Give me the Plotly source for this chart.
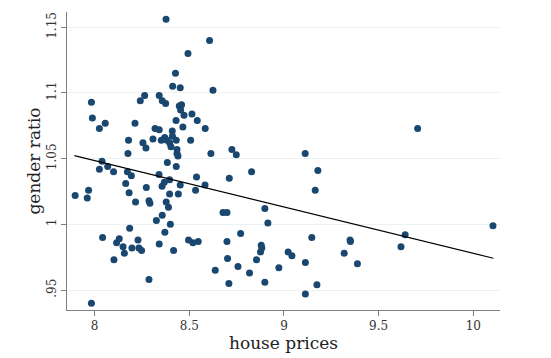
import plotly.graph_objects as go

house_prices = [
    8.377, 8.607, 8.493, 8.427, 8.412, 8.452, 8.625, 7.983, 8.264, 8.241,
    8.341, 8.357, 8.375, 8.459, 8.447, 8.454, 8.472, 7.988, 8.430, 8.514,
    8.542, 8.025, 8.056, 8.213, 8.319, 8.341, 8.410, 8.466, 8.584, 8.179,
    8.308, 8.255, 8.271, 8.352, 8.370, 8.382, 8.396, 8.431, 8.403, 8.507,
    8.435, 8.435, 8.440, 8.176, 8.384, 8.614, 8.725, 8.748, 8.039, 8.025,
    8.069, 8.100, 8.173, 8.194, 8.340, 8.431, 8.538, 8.711, 8.829, 8.396,
    8.164, 8.182, 8.273, 8.356, 8.368, 8.452, 8.442, 8.396, 8.378, 8.390,
    8.533, 8.583, 7.897, 7.968, 7.961, 8.216, 8.287, 8.292, 8.357, 8.326,
    8.400, 8.678, 8.699, 8.899, 8.915, 8.185, 8.042, 8.116, 8.130, 8.150,
    8.157, 8.102, 8.197, 8.229, 8.234, 8.248, 8.341, 8.371, 8.417, 8.496,
    8.519, 8.547, 8.287, 7.983, 8.637, 8.699, 8.702, 8.757, 8.771, 8.709,
    8.818, 8.855, 8.880, 8.883, 8.876, 8.899, 8.973, 9.179, 9.165, 9.147,
    9.022, 9.042, 9.113, 9.174, 9.113, 9.318, 9.349, 9.351, 9.388, 9.618,
    9.640, 10.104, 9.706, 9.112, 8.411,
]
gender_ratio = [
    1.156, 1.140, 1.130, 1.115, 1.105, 1.104, 1.102, 1.093, 1.098, 1.094,
    1.098, 1.094, 1.092, 1.091, 1.090, 1.087, 1.083, 1.081, 1.079, 1.084,
    1.079, 1.073, 1.077, 1.077, 1.073, 1.072, 1.071, 1.074, 1.073, 1.064,
    1.065, 1.062, 1.058, 1.064, 1.066, 1.064, 1.062, 1.064, 1.059, 1.064,
    1.057, 1.054, 1.052, 1.054, 1.047, 1.054, 1.057, 1.053, 1.048, 1.042,
    1.044, 1.040, 1.040, 1.037, 1.038, 1.044, 1.036, 1.035, 1.040, 1.034,
    1.031, 1.024, 1.028, 1.029, 1.032, 1.030, 1.023, 1.023, 1.017, 1.013,
    1.026, 1.030, 1.022, 1.026, 1.020, 1.017, 1.018, 1.016, 1.007, 1.003,
    1.000, 1.009, 1.009, 1.012, 1.001, 0.997, 0.990, 0.986, 0.989, 0.983,
    0.978, 0.973, 0.982, 0.988, 0.982, 0.980, 0.985, 0.994, 0.980, 0.988,
    0.986, 0.987, 0.958, 0.940, 0.965, 0.987, 0.974, 0.968, 0.993, 0.955,
    0.963, 0.973, 0.984, 0.982, 0.979, 0.956, 0.967, 1.041, 1.026, 0.990,
    0.979, 0.976, 0.971, 0.954, 0.947, 0.978, 0.988, 0.987, 0.970, 0.983,
    0.992, 0.999, 1.073, 1.054, 1.067,
]

# fitted line end points
fit_x = [7.893, 10.106]
fit_y = [1.0523, 0.9742]

x_tickvals = [8, 8.5, 9, 9.5, 10]
x_ticktext = ["8", "8.5", "9", "9.5", "10"]
y_tickvals = [0.95, 1.0, 1.05, 1.1, 1.15]
y_ticktext = [".95", "1", "1.05", "1.1", "1.15"]

fig = go.Figure()
fig.add_trace(go.Scatter(
    x=house_prices, y=gender_ratio, mode="markers",
    marker=dict(color="#1a476f", size=7, line=dict(width=0)),
    showlegend=False,
))
fig.add_trace(go.Scatter(
    x=fit_x, y=fit_y, mode="lines",
    line=dict(color="black", width=1.2),
    showlegend=False,
))

fig.update_layout(
    width=551, height=358,
    margin=dict(l=67, r=51, t=12, b=48),
    paper_bgcolor="white", plot_bgcolor="white",
    font=dict(family="DejaVu Serif", color="#333333", size=13),
)
fig.update_xaxes(
    range=[7.854, 10.141], automargin=False,
    tickvals=x_tickvals, ticktext=x_ticktext,
    showgrid=False, zeroline=False,
    showline=True, linecolor="#808080", linewidth=1,
    ticks="outside", ticklen=5, tickcolor="#808080",
    tickfont=dict(family="DejaVu Serif", size=12, color="#333333"),
    title=dict(text="house prices", standoff=2,
               font=dict(family="DejaVu Serif", size=17, color="#222222")),
)
fig.update_yaxes(
    range=[0.9348, 1.1616], automargin=False,
    tickvals=y_tickvals, ticktext=y_ticktext, tickangle=-90,
    showgrid=True, gridcolor="#eaf2f3", gridwidth=1,
    zeroline=False,
    showline=True, linecolor="#808080", linewidth=1,
    ticks="outside", ticklen=5, tickcolor="#808080",
    tickfont=dict(family="DejaVu Serif", size=12, color="#333333"),
    title=dict(text="gender ratio", standoff=0,
               font=dict(family="DejaVu Serif", size=17, color="#222222")),
)

fig.write_html(
    "out.html",
    config={"displayModeBar": False},
    post_script="document.body.style.margin='0';document.body.style.overflow='hidden';",
)
